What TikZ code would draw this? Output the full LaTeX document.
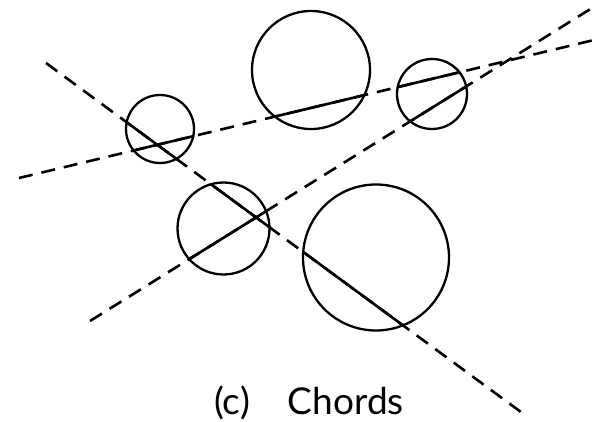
\documentclass[tikz,border=0pt]{standalone}
\usepackage{fontspec}
\setmainfont{Lato}
\usetikzlibrary{intersections}
\begin{document}
\begin{tikzpicture}[x=1pt,y=-1pt,
  circ/.style={draw, line width=2.3pt},
  dline/.style={line width=2.6pt, dash pattern=on 14pt off 9pt},
  chord/.style={line width=2.6pt, line cap=round},
  caption/.style={font=\fontsize{37}{44}\selectfont, inner sep=0pt}]
\useasboundingbox (0,0) rectangle (594,422);
\clip (0,0) rectangle (594,422);
% circles
\draw[circ, name path=cA] (160,129) circle[radius=34pt];
\draw[circ, name path=cB] (311,70) circle[radius=59pt];
\draw[circ, name path=cC] (432,94) circle[radius=35pt];
\draw[circ, name path=cD] (223.5,228.5) circle[radius=46pt];
\draw[circ, name path=cE] (376,257.5) circle[radius=73pt];
% line end points
\coordinate (l1s) at (19,178);
\coordinate (l1e) at (596,39.5);
\coordinate (l2s) at (46,63);
\coordinate (l2e) at (525,415);
\coordinate (l3s) at (90,321);
\coordinate (l3e) at (592,8);
% dashed lines
\draw[dline, name path=L1] (l1s) -- (l1e);
\draw[dline, name path=L2] (l2s) -- (l2e);
\draw[dline, name path=L3] (l3s) -- (l3e);
% chords
\path[name intersections={of=L1 and cA, name=pA1}];
\draw[chord] (pA1-1) -- (pA1-2);
\path[name intersections={of=L1 and cB, name=pB1}];
\draw[chord] (pB1-1) -- (pB1-2);
\path[name intersections={of=L1 and cC, name=pC1}];
\draw[chord] (pC1-1) -- (pC1-2);
\path[name intersections={of=L2 and cA, name=pA2}];
\draw[chord] (pA2-1) -- (pA2-2);
\path[name intersections={of=L2 and cD, name=pD2}];
\draw[chord] (pD2-1) -- (pD2-2);
\path[name intersections={of=L2 and cE, name=pE2}];
\draw[chord] (pE2-1) -- (pE2-2);
\path[name intersections={of=L3 and cD, name=pD3}];
\draw[chord] (pD3-1) -- (pD3-2);
\path[name intersections={of=L3 and cC, name=pC3}];
\draw[chord] (pC3-1) -- (pC3-2);
% caption
\node[caption, anchor=base west] (cap) at (214,414) {(c)\hspace{38pt}Chords};
\end{tikzpicture}
\end{document}
